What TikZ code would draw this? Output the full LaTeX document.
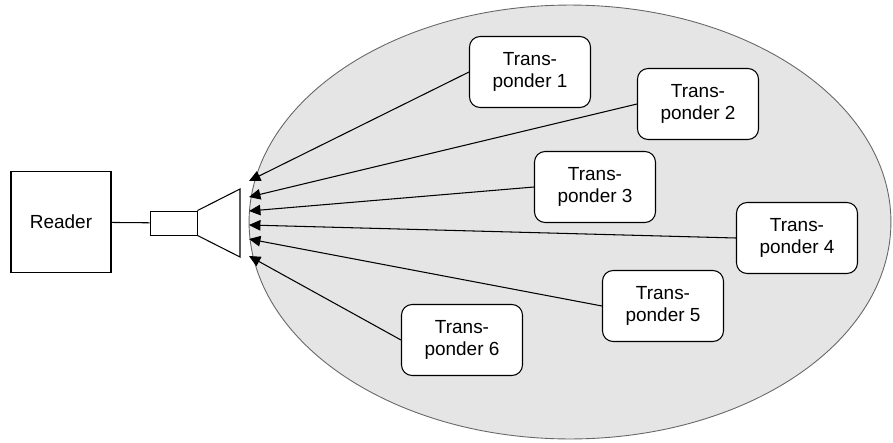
\documentclass[tikz,border=0pt]{standalone}
\usepackage{fontspec}
\setmainfont{Liberation Sans}
\usetikzlibrary{arrows.meta}

\begin{document}
\begin{tikzpicture}[x=0.02cm, y=-0.02cm, line width=0.6pt,
        font=\fontsize{10.8}{12.3}\selectfont,
        tp/.style={draw, fill=white, rounded corners=6pt, align=center,
                   minimum width=2.42cm, minimum height=1.42cm},
        wave/.style={-{Triangle[length=6.5pt, width=6pt]}}]
        \useasboundingbox (0,0) rectangle (893,443);
        \filldraw[fill=black!10, draw=black!60, line width=0.5pt]
            (570,222) ellipse [x radius=6.42cm, y radius=4.34cm];

        \node (reader) [draw, minimum width=2cm, minimum height=2.02cm] at (61,222) {Reader};
        \node (feed)   [draw, line width=0.5pt, minimum width=0.94cm, minimum height=0.48cm, inner sep=0pt] at (173.5,223) {};
        \coordinate (hornT) at (240,189);
        \coordinate (hornB) at (240,257);
        \draw (reader) -- (feed);
        \draw (feed.north east) -- (hornT) -- (hornB) -- (feed.south east);

        \node (tp1) [tp] at (530,72)  {Trans-\\ponder 1};
        \node (tp2) [tp] at (698,104) {Trans-\\ponder 2};
        \node (tp3) [tp] at (595,187) {Trans-\\ponder 3};
        \node (tp4) [tp] at (797,238) {Trans-\\ponder 4};
        \node (tp5) [tp] at (663,306) {Trans-\\ponder 5};
        \node (tp6) [tp] at (462,340) {Trans-\\ponder 6};

        \coordinate (a1) at (249,181);
        \coordinate (a2) at (249,197);
        \coordinate (a3) at (249,211);
        \coordinate (a4) at (249,225);
        \coordinate (a5) at (249,239);
        \coordinate (a6) at (249,256);

        \draw[wave] (tp1.west) -- (a1);
        \draw[wave] (tp2.west) -- (a2);
        \draw[wave] (tp3.west) -- (a3);
        \draw[wave] (tp4.west) -- (a4);
        \draw[wave] (tp5.west) -- (a5);
        \draw[wave] (tp6.west) -- (a6);
    \end{tikzpicture}
\end{document}
